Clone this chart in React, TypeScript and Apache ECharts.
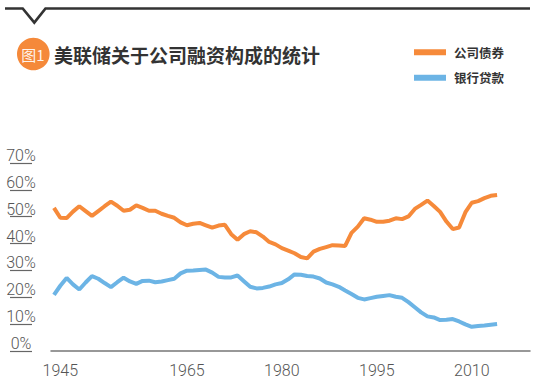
import React, { useEffect, useRef } from "react";
import * as echarts from "echarts";

const years = [
  1944, 1945, 1946, 1947, 1948, 1949, 1950, 1951, 1952, 1953,
  1954, 1955, 1956, 1957, 1958, 1959, 1960, 1961, 1962, 1963,
  1964, 1965, 1966, 1967, 1968, 1969, 1970, 1971, 1972, 1973,
  1974, 1975, 1976, 1977, 1978, 1979, 1980, 1981, 1982, 1983,
  1984, 1985, 1986, 1987, 1988, 1989, 1990, 1991, 1992, 1993,
  1994, 1995, 1996, 1997, 1998, 1999, 2000, 2001, 2002, 2003,
  2004, 2005, 2006, 2007, 2008, 2009, 2010, 2011, 2012, 2013,
  2014,
];

const corporateBonds = [
  53.3, 49.6, 49.5, 51.9, 53.9, 52.1, 50.3, 52.1, 53.9, 55.6,
  54.1, 52.2, 52.6, 54.2, 53.3, 52.2, 52.2, 51.1, 50.3, 49.6,
  47.9, 46.8, 47.4, 47.7, 46.8, 45.9, 46.7, 47.0, 43.5, 41.4,
  43.5, 44.6, 44.2, 42.6, 40.6, 39.7, 38.3, 37.4, 36.4, 35.0,
  34.5, 37.0, 38.0, 38.7, 39.4, 39.3, 39.1, 44.0, 46.3, 49.4,
  48.9, 48.1, 48.1, 48.5, 49.4, 49.1, 50.1, 52.9, 54.4, 56.0,
  54.0, 51.8, 48.2, 45.4, 46.0, 51.7, 55.2, 55.8, 56.9, 57.8,
  58.1,
];

const bankLoans = [
  20.9, 24.3, 27.2, 24.8, 22.9, 25.5, 27.9, 26.9, 25.3, 23.8,
  25.6, 27.3, 25.9, 25.0, 26.1, 26.2, 25.6, 25.9, 26.4, 26.9,
  28.9, 29.9, 30.0, 30.2, 30.3, 29.2, 27.6, 27.4, 27.4, 28.1,
  26.0, 23.9, 23.3, 23.5, 24.0, 24.8, 25.3, 26.7, 28.5, 28.4,
  27.9, 27.7, 27.0, 25.5, 24.8, 23.9, 22.5, 21.2, 19.8, 19.2,
  19.7, 20.2, 20.5, 20.8, 20.2, 19.8, 18.2, 16.3, 14.4, 12.9,
  12.5, 11.5, 11.6, 11.9, 11.0, 9.9, 9.0, 9.3, 9.5, 9.8,
  10.05,
];

const xTickLabels = [1945, 1965, 1980, 1995, 2010];
const seriesNames = ["公司债券", "银行贷款"];
const titleText = "美联储关于公司融资构成的统计";
const badgeText = "图1";

const ORANGE = "#F68A3A";
const BLUE = "#6CB4E5";
const CJK = '"Noto Sans CJK SC", "Noto Sans", sans-serif';
const LATIN = 'Roboto, "Liberation Sans", sans-serif';

export default function App() {
  const ref = useRef<HTMLDivElement>(null);

  useEffect(() => {
    if (!ref.current) return;
    const chart = echarts.init(ref.current, undefined, { renderer: "svg" });
    const option: any = {
      animation: false,
      backgroundColor: "#ffffff",
      grid: { left: 51, right: 7, top: 163, bottom: 41, containLabel: false },
      legend: {
        orient: "vertical",
        left: 414,
        top: 46,
        padding: 0,
        itemWidth: 32,
        itemHeight: 6,
        itemGap: 13,
        icon: "rect",
        data: seriesNames,
        selectedMode: false,
        textStyle: {
          fontFamily: CJK,
          fontSize: 12.5,
          fontWeight: "bold",
          color: "#333333",
          padding: [0, 0, 0, 3],
        },
      },
      xAxis: {
        type: "value",
        min: 1943.53,
        max: 2019.2,
        axisLine: { show: true, lineStyle: { color: "#777777", width: 1.5 } },
        axisTick: { show: false },
        splitLine: { show: false },
        axisLabel: {
          customValues: xTickLabels,
          formatter: (v: number) => String(v),
          margin: 11,
          fontFamily: LATIN,
          fontWeight: 300,
          fontSize: 16,
          color: "#555555",
        },
      },
      yAxis: {
        type: "value",
        min: 0,
        max: 70,
        interval: 10,
        offset: 19,
        axisLine: { show: false },
        axisTick: {
          show: true,
          length: 22,
          lineStyle: { color: "#666666", width: 1.2 },
        },
        splitLine: { show: false },
        axisLabel: {
          formatter: "{value}%",
          align: "center",
          verticalAlign: "bottom",
          lineHeight: 15,
          margin: 11,
          fontFamily: LATIN,
          fontWeight: 300,
          fontSize: 16,
          color: "#555555",
        },
      },
      series: [
        {
          name: seriesNames[0],
          type: "line",
          data: years.map((y, i) => [y, corporateBonds[i]]),
          showSymbol: false,
          color: ORANGE,
          lineStyle: { width: 4, color: ORANGE },
        },
        {
          name: seriesNames[1],
          type: "line",
          data: years.map((y, i) => [y, bankLoans[i]]),
          showSymbol: false,
          color: BLUE,
          lineStyle: { width: 4, color: BLUE },
        },
      ],
      graphic: [
        {
          type: "polyline",
          shape: {
            points: [
              [5, 8.5],
              [22.7, 8.5],
              [34.3, 22.5],
              [45.5, 8.5],
              [530, 8.5],
            ],
          },
          style: { stroke: "#333333", lineWidth: 2.7, fill: null },
        },
        {
          type: "circle",
          shape: { cx: 33.3, cy: 54, r: 16.3 },
          style: { fill: "#F5893A" },
        },
        {
          type: "text",
          x: 33,
          y: 54,
          style: {
            text: badgeText,
            fill: "#ffffff",
            font: `15px ${CJK}`,
            align: "center",
            verticalAlign: "middle",
            opacity: 0.92,
          },
        },
        {
          type: "text",
          x: 54,
          y: 54,
          style: {
            text: titleText,
            fill: "#333333",
            font: `bold 19px ${CJK}`,
            align: "left",
            verticalAlign: "middle",
          },
        },
      ],
    };
    chart.setOption(option);
    return () => {
      chart.dispose();
    };
  }, []);

  return (
    <div
      ref={ref}
      style={{ position: "fixed", left: 0, top: 0, width: 537, height: 392 }}
    />
  );
}
